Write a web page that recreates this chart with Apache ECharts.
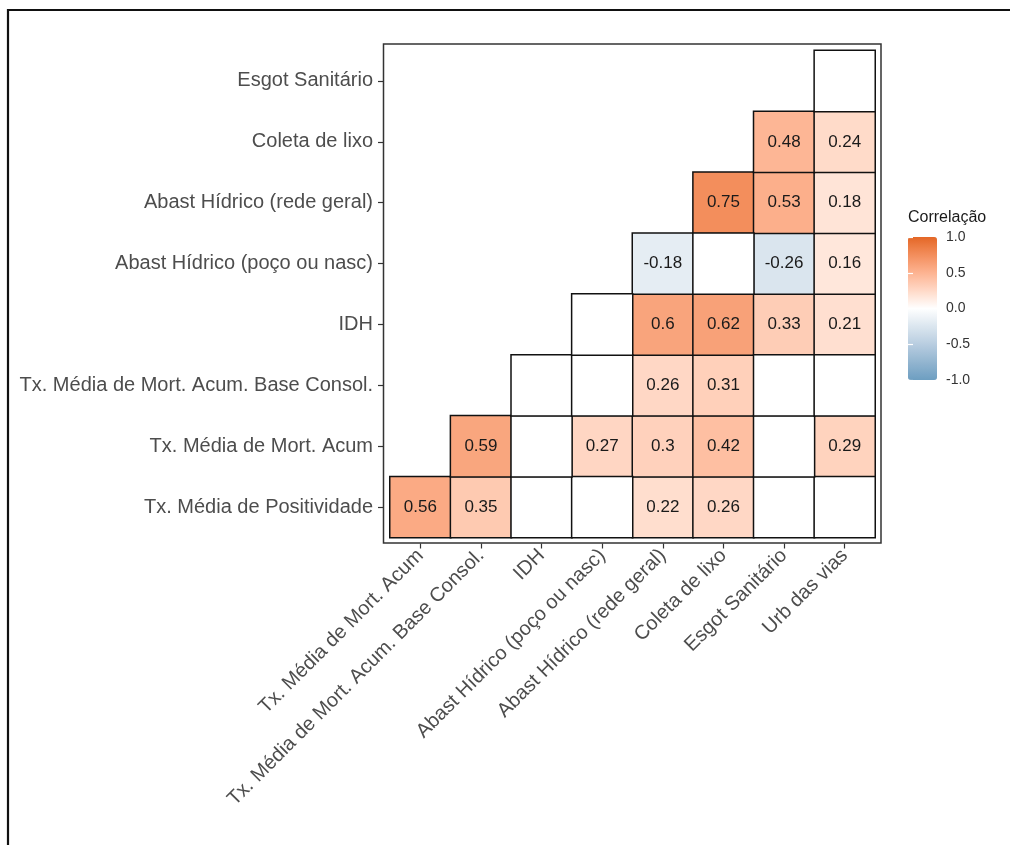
<!DOCTYPE html>
<html>
<head>
<meta charset="utf-8">
<script src="https://cdn.jsdelivr.net/npm/echarts@6/dist/echarts.min.js"></script>
<style>
html,body{margin:0;padding:0;background:#fff;}
#chart{width:1010px;height:845px;}
</style>
</head>
<body>
<div id="chart"></div>
<script>
// Column (x) categories, left to right
const xCategories = [
  'Tx. Média de Mort. Acum',
  'Tx. Média de Mort. Acum. Base Consol.',
  'IDH',
  'Abast Hídrico (poço ou nasc)',
  'Abast Hídrico (rede geral)',
  'Coleta de lixo',
  'Esgot Sanitário',
  'Urb das vias'
];
// Row (y) categories, bottom to top
const yCategories = [
  'Tx. Média de Positividade',
  'Tx. Média de Mort. Acum',
  'Tx. Média de Mort. Acum. Base Consol.',
  'IDH',
  'Abast Hídrico (poço ou nasc)',
  'Abast Hídrico (rede geral)',
  'Coleta de lixo',
  'Esgot Sanitário'
];
// Each row lists its cells from column index = row index up to the last column.
// null = correlation not significant (blank white cell)
const rowPositividade   = [0.56, 0.35, null, null, 0.22, 0.26, null, null];
const rowMortAcum       = [0.59, null, 0.27, 0.30, 0.42, null, 0.29];
const rowMortBaseConsol = [null, null, 0.26, 0.31, null, null];
const rowIDH            = [null, 0.60, 0.62, 0.33, 0.21];
const rowPocoNasc       = [-0.18, null, -0.26, 0.16];
const rowRedeGeral      = [0.75, 0.53, 0.18];
const rowColetaLixo     = [0.48, 0.24];
const rowEsgotSanitario = [null];
const rows = [rowPositividade, rowMortAcum, rowMortBaseConsol, rowIDH,
              rowPocoNasc, rowRedeGeral, rowColetaLixo, rowEsgotSanitario];
// Legend colour-bar ticks
const legendTicks = [-1.0, -0.5, 0.0, 0.5, 1.0];
const legendTitle = 'Correlação';

const sigData = [];
const blankData = [];
rows.forEach(function (vals, r) {
  vals.forEach(function (v, k) {
    const c = r + k;
    if (v === null) blankData.push([c, r, 0]);
    else sigData.push([c, r, v]);
  });
});

const FONT = '"Liberation Sans", Arial, sans-serif';
const chart = echarts.init(document.getElementById('chart'), null, {renderer: 'canvas'});
chart.setOption({
  backgroundColor: '#ffffff',
  animation: false,
  title: {
    text: legendTitle, left: 908, top: 210, padding: 0,
    textStyle: {fontFamily: FONT, fontSize: 16, fontWeight: 'normal', color: '#1a1a1a'}
  },
  grid: [
    {left: 390, top: 50.5, width: 485, height: 487},
    {left: 908, top: 237, width: 29, height: 143}
  ],
  xAxis: [
    {
      type: 'category', data: xCategories, gridIndex: 0, position: 'bottom', offset: 6,
      axisLine: {show: false},
      axisTick: {show: true, alignWithLabel: true, length: 5, lineStyle: {color: '#333', width: 1.2}},
      axisLabel: {rotate: 45, margin: 9, fontFamily: FONT, fontSize: 20, color: '#4d4d4d', interval: 0},
      splitLine: {show: false}
    },
    {type: 'value', gridIndex: 1, show: false, min: 0, max: 1}
  ],
  yAxis: [
    {
      type: 'category', data: yCategories, gridIndex: 0, position: 'left', offset: 7,
      axisLine: {show: false},
      axisTick: {show: true, alignWithLabel: true, length: 5, lineStyle: {color: '#333', width: 1.2}},
      axisLabel: {margin: 10, fontFamily: FONT, fontSize: 20, color: '#4d4d4d', interval: 0},
      splitLine: {show: false}
    },
    {
      type: 'value', gridIndex: 1, position: 'right', min: -1, max: 1, interval: 0.5, z: 10,
      axisLine: {show: false},
      axisTick: {show: true, inside: true, length: 5, lineStyle: {color: '#ffffff', width: 1.2}},
      axisLabel: {margin: 9, fontFamily: FONT, fontSize: 14, color: '#333',
        formatter: function (v) { return v.toFixed(1); },
        customValues: legendTicks},
      splitLine: {show: false}
    },
    {
      type: 'value', gridIndex: 1, position: 'left', min: -1, max: 1, interval: 0.5, z: 10,
      axisLine: {show: false},
      axisTick: {show: true, inside: true, length: 5, lineStyle: {color: '#ffffff', width: 1.2}},
      axisLabel: {show: false},
      splitLine: {show: false}
    }
  ],
  visualMap: {
    type: 'continuous', min: -1, max: 1, seriesIndex: 0,
    calculable: false, orient: 'vertical', left: 908, top: 237, padding: 0,
    itemWidth: 29, itemHeight: 143, text: null, showLabel: false,
    inRange: {color: ['#6D9EC1', '#93B5D0', '#B8CDE0', '#DBE6EF', '#FFFFFF',
                      '#FFD9C7', '#FDB391', '#F38E5C', '#E46726']},
    z: 5
  },
  graphic: [
    {type: 'rect', shape: {x: 383.5, y: 44, width: 497.5, height: 499},
     style: {fill: 'none', stroke: '#333', lineWidth: 1.5}, z: 100, silent: true},
    {type: 'line', shape: {x1: 7, y1: 10, x2: 1010, y2: 10},
     style: {stroke: '#111', lineWidth: 2.2}, silent: true},
    {type: 'line', shape: {x1: 8, y1: 9, x2: 8, y2: 845},
     style: {stroke: '#111', lineWidth: 2.2}, silent: true}
  ],
  series: [
    {
      type: 'heatmap', xAxisIndex: 0, yAxisIndex: 0, data: sigData,
      itemStyle: {borderColor: '#111', borderWidth: 1.5},
      label: {show: true, fontFamily: FONT, fontSize: 17, color: '#1a1a1a',
        formatter: function (p) { return String(+p.value[2].toFixed(2)); }},
      emphasis: {disabled: true}
    },
    {
      type: 'heatmap', xAxisIndex: 0, yAxisIndex: 0, data: blankData,
      itemStyle: {color: '#ffffff', borderColor: '#111', borderWidth: 1.5},
      label: {show: false},
      emphasis: {disabled: true}
    }
  ]
});
</script>
</body>
</html>
